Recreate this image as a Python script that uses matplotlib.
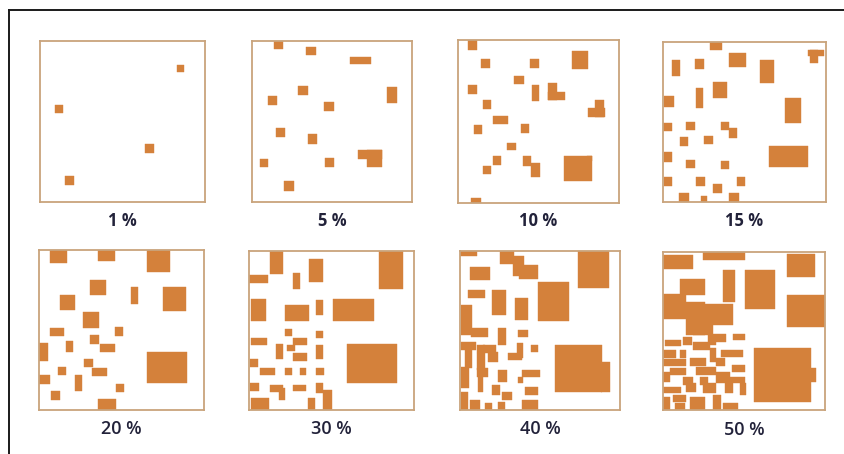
import matplotlib
matplotlib.use("Agg")
import matplotlib.pyplot as plt

# patches per panel: (x0, y0, width, height) in panel units, origin top-left
labels = ["1 %", "5 %", "10 %", "15 %", "20 %", "30 %", "40 %", "50 %"]

cover_1 = [(83, 15, 4, 4), (9, 40, 5, 5), (63.5, 64, 5.5, 5.5), (15, 84, 5.5, 5.5)]

cover_5 = [(13.5, 0, 6, 5), (34, 4, 6, 5), (61, 9.7, 13.5, 4.5), (29, 28, 6, 5.5),
           (9.8, 34, 6, 5.5), (84.6, 28.7, 6, 9.5), (45, 38, 6, 5.5), (15, 54, 5.5, 5.5),
           (35, 58, 5.5, 6), (4.8, 73, 5.5, 5.5), (45.4, 72.7, 6, 5.5), (66, 68, 15, 5),
           (72, 68, 9.4, 10.3), (20, 87, 6, 6)]

cover_10 = [(6, 0, 6, 6), (14.5, 11.8, 5.5, 5.5), (45, 11.8, 5.5, 5.5), (70.5, 7, 10.5, 10.5),
            (35, 22, 6, 5), (6.2, 27.5, 5.5, 5.5), (46, 27.5, 4.5, 10), (56, 26.5, 5.5, 10.6),
            (56, 31.6, 10.4, 5.5), (85, 37, 5.5, 10), (80.5, 42, 10.5, 5.5), (15.8, 36.7, 5, 5.5),
            (21.8, 46.5, 9, 4.8), (10, 52, 5, 5.5), (39.4, 51.6, 5, 5.5), (30.7, 62.9, 5.5, 4.5),
            (21.8, 71.4, 5, 5.5), (15.8, 77, 5, 5.5), (40.5, 71, 5, 6), (45.2, 75.5, 5.5, 8.5),
            (66, 71.4, 17, 15.3), (80, 71.4, 3.5, 3), (8, 97, 6, 3)]

cover_15 = [(29, 0, 7, 5), (89, 5, 10, 4), (90, 5, 5, 8), (5.7, 11, 4.5, 10),
            (19.5, 10.7, 5.5, 6), (40.7, 6.9, 10, 9), (59.5, 11, 8.5, 14.5), (30.8, 25.3, 8.5, 10),
            (20, 29, 4.5, 12.5), (0.4, 34, 6.5, 6.5), (75, 35, 9.5, 15.5), (0, 50.4, 5.5, 5),
            (14.4, 49.8, 5, 5.5), (35.3, 49.8, 5, 5.5), (40.2, 54, 5.5, 6), (10.3, 59.2, 5, 5.5),
            (25, 58.8, 5.5, 5), (65.3, 65, 23.4, 13.4), (0.5, 69, 5, 6), (14.4, 73.8, 5.5, 5),
            (35.3, 74.3, 5, 5), (0.5, 84.3, 5, 6), (20, 84.3, 5.5, 6), (45.6, 84.3, 4.5, 6),
            (30.4, 88.9, 5.5, 5.5), (9.9, 94.4, 6, 5.6), (23.2, 96.4, 3.5, 3.6), (40.7, 94.4, 6, 5.6)]

cover_20 = [(6.9, 0, 10, 8), (35.8, 0, 10.5, 7), (65.6, 0, 13.5, 13.5), (31.2, 18.8, 9.5, 9.5),
            (55.5, 23, 4.5, 11), (75.3, 23.3, 13.5, 15), (12.6, 28, 9.5, 9.5), (26.7, 39, 9.5, 10),
            (6.9, 49, 8, 5), (46, 48, 5, 5.5), (30.8, 53, 5.5, 5.5), (36.8, 59, 9, 5),
            (16.2, 57, 4.5, 6.5), (0, 58.3, 5.5, 11), (65.2, 63.5, 24.7, 19.8), (27, 68.3, 5.5, 5),
            (32.4, 73.5, 9, 5.5), (11.5, 73, 5, 5), (0, 78, 6.5, 5.5), (21.7, 78, 4.5, 10),
            (46.5, 83.5, 5, 5), (7.5, 88, 5, 6), (35.8, 93, 11, 7)]

cover_30 = [(13, 0, 7.7, 14.2), (0, 14.9, 11.5, 5), (36.2, 5.2, 8.5, 14.5), (26.7, 13.6, 4.5, 10.5),
            (79, 0, 14.6, 24), (1.4, 30.3, 9, 14), (21.7, 34, 14.5, 10), (40.9, 31, 4, 9),
            (51, 29.9, 24.5, 14), (21.7, 49, 4.5, 4.5), (40.9, 50.4, 4, 4.5), (1.4, 54.6, 9.5, 4.5),
            (26.7, 54.6, 8.5, 4.5), (16.6, 58.2, 4, 10), (40.9, 59.2, 4, 9), (23.3, 59.2, 4.5, 4),
            (26.7, 64.4, 8.5, 4.5), (59.5, 58.8, 30, 24.5), (0.8, 68.2, 4.5, 4.5), (6.9, 73.4, 9, 4.5),
            (21.7, 73.8, 4.5, 4.5), (30.8, 73.8, 4, 4.5), (40.9, 73.8, 4.5, 4.5), (0.8, 83.3, 5, 4.5),
            (12.5, 84.3, 8, 4.5), (18.2, 86.4, 3.5, 7), (26.7, 84.3, 8, 4), (40.5, 83.3, 4.5, 6),
            (45, 87.4, 5.5, 12.6), (1.4, 92.7, 11, 7.3), (35.8, 92.7, 4.5, 7.3)]

cover_40 = [(0, 0, 10.5, 3), (25, 0, 8.5, 8), (33.3, 3, 6.5, 13), (36.9, 8.8, 12, 8.5),
            (6.25, 9.9, 12.5, 8.4), (74, 0, 19, 23), (48.5, 19.7, 19.5, 24.3), (5.2, 24.5, 10.4, 4.8),
            (19.8, 24.5, 8.7, 15.7), (34.4, 29.3, 8.3, 14), (0.6, 34, 6.7, 18.9), (6.9, 48.6, 10.4, 5.2),
            (24, 48.6, 4.6, 10.5), (36.5, 49.7, 6.3, 4.2), (44.4, 59.1, 4.6, 4.6), (35.4, 58, 4.2, 9.4),
            (30.2, 64.4, 8.3, 4.4), (0.6, 57, 9.4, 5.2), (10.4, 59.1, 5, 5), (3.1, 62.3, 4.5, 11),
            (10.4, 64.4, 5, 10.5), (14.6, 59.1, 8, 5), (17.7, 63.3, 6.3, 6.3), (0.6, 72.7, 5.2, 13.6),
            (10.4, 73.8, 7.3, 5.2), (11.5, 79, 3.1, 9.4), (24, 74.8, 5.2, 7.3), (19.8, 84.3, 5.2, 6.3),
            (38.5, 74.8, 11.5, 4.2), (36, 79, 3.5, 4), (40.6, 85.3, 8.3, 5.2), (26, 88.5, 6.3, 5.2),
            (0.6, 88.5, 4.2, 11.5), (6.25, 93.7, 6.3, 6.3), (15.6, 95.8, 4.2, 4.2), (24, 94.8, 4.2, 5.2),
            (38.5, 93.7, 10.4, 6.3), (59.4, 59.1, 29.2, 29.4), (88, 69.6, 5.5, 19)]

cover_50 = [(0, 1.7, 18.5, 8.8), (24.7, 0, 25.8, 5.3), (76.3, 1, 17.5, 14.7), (10.3, 16.8, 15.5, 10.5),
            (37.1, 11.6, 7.2, 20), (50.5, 11.6, 18.5, 24.2), (76.3, 27.4, 23.7, 20), (0, 26.3, 14.4, 15.8),
            (14.4, 31.6, 11.3, 21), (25.8, 32.6, 17.5, 13.7), (18.6, 46.3, 12.4, 6.3), (30.9, 51.6, 8, 5.5),
            (43.3, 51.6, 7.2, 4.2), (1, 55.5, 10.3, 4.2), (12.4, 53.7, 5.2, 5.3), (18.6, 57, 10.3, 5.2),
            (27.8, 52.6, 5.2, 6.3), (10.3, 62, 4.1, 5.3), (0, 62, 8.2, 5.3), (28.9, 61, 4.1, 8.4),
            (36, 62, 13.4, 4.2), (16.5, 67, 10.3, 5.3), (0, 68, 14.4, 4.2), (33, 67, 5.2, 5.3),
            (42.3, 71.6, 8.2, 4.2), (4.1, 73.7, 10.3, 4.2), (20.6, 72.6, 12.4, 5.3), (0, 75.8, 4.1, 6.3),
            (12.4, 78.9, 6.2, 5.3), (22.7, 78.9, 5.2, 5.3), (33, 75.8, 8.2, 7.4), (41.2, 78.9, 9.3, 4.2),
            (0, 85.3, 11.3, 4.2), (14.4, 83.2, 6.2, 5.3), (24.7, 83.2, 8.2, 6.3), (38.1, 83.2, 5.2, 6.3),
            (47.4, 83.2, 4.1, 7.4), (6.2, 90.5, 8.2, 4.2), (16.5, 91.6, 9.3, 8.4), (30.9, 90.5, 5.2, 9.5),
            (0, 91.6, 4.1, 8.4), (7.2, 95.8, 6.2, 4.2), (37.1, 95.8, 9.3, 4.2), (56, 61, 35.3, 33.7),
            (90.7, 73.7, 4, 8.4)]

covers = [cover_1, cover_5, cover_10, cover_15, cover_20, cover_30, cover_40, cover_50]

W, H = 845, 454
# panel boxes in pixels: left, top, right, bottom
boxes = [(40, 41, 205, 202), (252, 41, 412, 202), (458, 40, 619, 203), (663, 42, 826, 202),
         (39, 250, 204, 410), (249, 251, 414, 410), (460, 251, 620, 410), (663, 252, 825, 410)]
label_y = [221, 221, 221, 221, 429, 429, 429, 430]

fill = "#D4813B"
edge = "#C9A47C"

fig = plt.figure(figsize=(W / 100, H / 100), dpi=100)
fig.patch.set_facecolor("white")

# outer frame (top and left edges visible)
frame = fig.add_axes([0, 0, 1, 1])
frame.set_xlim(0, W)
frame.set_ylim(H, 0)
frame.axis("off")
frame.plot([9, W], [10, 10], color="#1a1a1a", lw=1.4)
frame.plot([9, 9], [10, H], color="#1a1a1a", lw=1.4)

for i, (l, t, r, b) in enumerate(boxes):
    ax = fig.add_axes([l / W, 1 - b / H, (r - l) / W, (b - t) / H])
    rects = covers[i]
    x0 = [p[0] for p in rects]
    y0 = [p[1] for p in rects]
    w = [p[2] for p in rects]
    h = [p[3] for p in rects]
    ax.bar(x0, h, width=w, bottom=y0, align="edge", color=fill, edgecolor=fill, linewidth=0.3)
    ax.set_xlim(0, 100)
    ax.set_ylim(100, 0)
    ax.set_xticks([])
    ax.set_yticks([])
    for s in ax.spines.values():
        s.set_color(edge)
        s.set_linewidth(1.3)
    size = 12 if i < 4 else 13
    weight = "bold" if i < 4 else "semibold"
    fig.text((l + r) / 2 / W, 1 - label_y[i] / H, labels[i], ha="center", va="center",
             fontsize=size, fontweight=weight, color="#22223a", family="Open Sans")

fig.savefig("out.png", dpi=100, facecolor="white")
